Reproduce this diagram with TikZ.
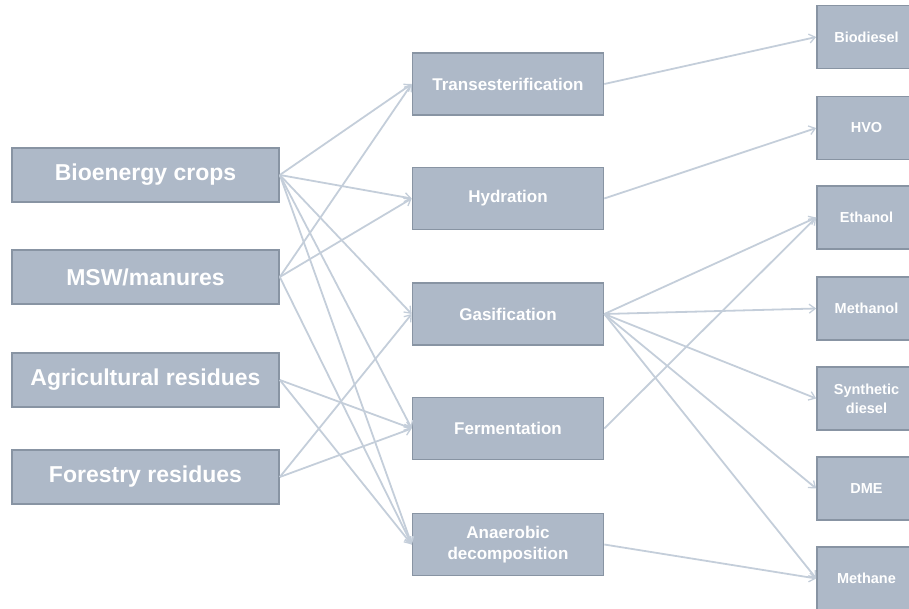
\documentclass[tikz,border=0pt]{standalone}
\usepackage{fontspec}
\setmainfont{Liberation Sans}
\usetikzlibrary{arrows.meta}
\definecolor{boxfill}{RGB}{174,185,200}
\definecolor{boxline}{RGB}{136,148,163}
\definecolor{conncol}{RGB}{196,206,218}
\tikzset{
  basebox/.style={draw=boxline, line width=1.6pt, fill=boxfill, text=white, inner sep=0pt, align=center, font=\bfseries},
  srcbox/.style={basebox, minimum width=267pt, minimum height=54pt, font=\bfseries\fontsize{23}{27}\selectfont},
  procbox/.style={basebox, minimum width=191pt, minimum height=62pt, font=\bfseries\fontsize{17}{21}\selectfont},
  prodbox/.style={basebox, minimum width=99pt, minimum height=63pt, font=\bfseries\fontsize{14.5}{19}\selectfont},
  conn/.style={draw=conncol, line width=1.8pt, -{Straight Barb[length=6pt,width=9pt,line width=1.3pt]}}
}
\begin{document}
\begin{tikzpicture}[x=1pt,y=-1pt]
\useasboundingbox (0,0) rectangle (909,609);
\clip (0,0) rectangle (909,609);
% sources
\node[srcbox] (bio) at (145.5,175) {Bioenergy crops};
\node[srcbox] (msw) at (145.5,277) {MSW/manures};
\node[srcbox] (agr) at (145.5,380) {Agricultural residues};
\node[srcbox] (for) at (145.5,477) {Forestry residues};
% processes
\node[procbox] (tra) at (508,84) {Transesterification};
\node[procbox] (hyd) at (508,198.5) {Hydration};
\node[procbox] (gas) at (508,314) {Gasification};
\node[procbox] (fer) at (508,428.5) {Fermentation};
\node[procbox] (ana) at (508,544.5) {Anaerobic\\decomposition};
% products
\node[prodbox] (bdi) at (866.5,37) {Biodiesel};
\node[prodbox] (hvo) at (866.5,128) {HVO};
\node[prodbox] (eth) at (866.5,217.5) {Ethanol};
\node[prodbox] (mol) at (866.5,308.5) {Methanol};
\node[prodbox] (syn) at (866.5,398.5) {Synthetic\\diesel};
\node[prodbox] (dme) at (866.5,488.5) {DME};
\node[prodbox] (mne) at (866.5,578.5) {Methane};
% connectors left
\draw[conn] (bio.east) -- (tra.west);
\draw[conn] (bio.east) -- (hyd.west);
\draw[conn] (bio.east) -- (gas.west);
\draw[conn] (bio.east) -- (fer.west);
\draw[conn] (bio.east) -- (ana.west);
\draw[conn] (msw.east) -- (tra.west);
\draw[conn] (msw.east) -- (hyd.west);
\draw[conn] (msw.east) -- (ana.west);
\draw[conn] (agr.east) -- (fer.west);
\draw[conn] (agr.east) -- (ana.west);
\draw[conn] (for.east) -- (gas.west);
\draw[conn] (for.east) -- (fer.west);
% connectors right
\draw[conn] (tra.east) -- (bdi.west);
\draw[conn] (hyd.east) -- (hvo.west);
\draw[conn] (gas.east) -- (eth.west);
\draw[conn] (gas.east) -- (mol.west);
\draw[conn] (gas.east) -- (syn.west);
\draw[conn] (gas.east) -- (dme.west);
\draw[conn] (gas.east) -- (mne.west);
\draw[conn] (fer.east) -- (eth.west);
\draw[conn] (ana.east) -- (mne.west);
\end{tikzpicture}
\end{document}
